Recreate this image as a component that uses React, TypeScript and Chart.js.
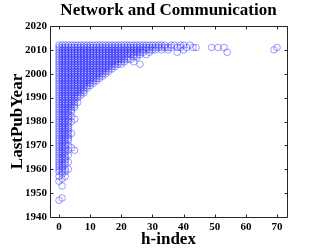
import React, { useEffect, useRef } from "react";
import { Chart, registerables } from "chart.js";

Chart.register(...registerables);

const chartTitle = "Network and Communication";
const xAxisTitle = "h-index";
const yAxisTitle = "LastPubYear";

const xTickValues = [0, 10, 20, 30, 40, 50, 60, 70];
const yTickValues = [1940, 1950, 1960, 1970, 1980, 1990, 2000, 2010, 2020];

// h-index value and the LastPubYear values of the researchers with that h-index
const hIndexValues = [
  0, 1, 2, 3, 4, 5, 6, 7, 8, 9, 10, 11, 12, 13, 14, 15, 16, 17, 18, 19, 20,
  21, 22, 23, 24, 25, 26, 27, 28, 29, 30, 31, 32, 33, 34, 35, 36, 37, 38, 39,
  40, 41, 42, 43, 44, 49, 51, 53, 54, 69, 70,
];

const lastPubYears: number[][] = [
  [1947, 1955, 1957, 1959, 1960, 1961, 1962, 1963, 1964, 1965, 1966, 1967, 1968, 1969, 1970, 1971, 1972, 1973, 1974, 1975, 1976, 1977, 1978, 1979, 1980, 1981, 1982, 1983, 1984, 1985, 1986, 1987, 1988, 1989, 1990, 1991, 1992, 1993, 1994, 1995, 1996, 1997, 1998, 1999, 2000, 2001, 2002, 2003, 2004, 2005, 2006, 2007, 2008, 2009, 2010, 2011, 2012],
  [1948, 1953, 1956, 1958, 1959, 1960, 1961, 1962, 1963, 1964, 1965, 1966, 1967, 1968, 1969, 1970, 1971, 1972, 1973, 1974, 1975, 1976, 1977, 1978, 1979, 1980, 1981, 1982, 1983, 1984, 1985, 1986, 1987, 1988, 1989, 1990, 1991, 1992, 1993, 1994, 1995, 1996, 1997, 1998, 1999, 2000, 2001, 2002, 2003, 2004, 2005, 2006, 2007, 2008, 2009, 2010, 2011, 2012],
  [1957, 1959, 1960, 1962, 1963, 1964, 1965, 1966, 1967, 1968, 1969, 1970, 1971, 1972, 1973, 1974, 1975, 1976, 1977, 1978, 1979, 1980, 1981, 1982, 1983, 1984, 1985, 1986, 1987, 1988, 1989, 1990, 1991, 1992, 1993, 1994, 1995, 1996, 1997, 1998, 1999, 2000, 2001, 2002, 2003, 2004, 2005, 2006, 2007, 2008, 2009, 2010, 2011, 2012],
  [1960, 1963, 1966, 1968, 1970, 1972, 1973, 1974, 1975, 1976, 1977, 1978, 1979, 1980, 1981, 1982, 1983, 1984, 1985, 1986, 1987, 1988, 1989, 1990, 1991, 1992, 1993, 1994, 1995, 1996, 1997, 1998, 1999, 2000, 2001, 2002, 2003, 2004, 2005, 2006, 2007, 2008, 2009, 2010, 2011, 2012],
  [1969, 1975, 1980, 1982, 1984, 1985, 1986, 1987, 1988, 1989, 1990, 1991, 1992, 1993, 1994, 1995, 1996, 1997, 1998, 1999, 2000, 2001, 2002, 2003, 2004, 2005, 2006, 2007, 2008, 2009, 2010, 2011, 2012],
  [1968, 1981, 1986, 1987, 1988, 1989, 1990, 1991, 1992, 1993, 1994, 1995, 1996, 1997, 1998, 1999, 2000, 2001, 2002, 2003, 2004, 2005, 2006, 2007, 2008, 2009, 2010, 2011, 2012],
  [1988, 1990, 1991, 1992, 1993, 1994, 1995, 1996, 1997, 1998, 1999, 2000, 2001, 2002, 2003, 2004, 2005, 2006, 2007, 2008, 2009, 2010, 2011, 2012],
  [1991, 1992, 1993, 1994, 1995, 1996, 1997, 1998, 1999, 2000, 2001, 2002, 2003, 2004, 2005, 2006, 2007, 2008, 2009, 2010, 2011, 2012],
  [1992, 1993, 1994, 1995, 1996, 1997, 1998, 1999, 2000, 2001, 2002, 2003, 2004, 2005, 2006, 2007, 2008, 2009, 2010, 2011, 2012],
  [1994, 1995, 1996, 1997, 1998, 1999, 2000, 2001, 2002, 2003, 2004, 2005, 2006, 2007, 2008, 2009, 2010, 2011, 2012],
  [1995, 1996, 1997, 1998, 1999, 2000, 2001, 2002, 2003, 2004, 2005, 2006, 2007, 2008, 2009, 2010, 2011, 2012],
  [1996, 1997, 1998, 1999, 2000, 2001, 2002, 2003, 2004, 2005, 2006, 2007, 2008, 2009, 2010, 2011, 2012],
  [1997, 1998, 1999, 2000, 2001, 2002, 2003, 2004, 2005, 2006, 2007, 2008, 2009, 2010, 2011, 2012],
  [1998, 1999, 2000, 2001, 2002, 2003, 2004, 2005, 2006, 2007, 2008, 2009, 2010, 2011, 2012],
  [1999, 2000, 2001, 2002, 2003, 2004, 2005, 2006, 2007, 2008, 2009, 2010, 2011, 2012],
  [2000, 2001, 2002, 2003, 2004, 2005, 2006, 2007, 2008, 2009, 2010, 2011, 2012],
  [2001, 2002, 2003, 2004, 2005, 2006, 2007, 2008, 2009, 2010, 2011, 2012],
  [2002, 2003, 2004, 2005, 2006, 2007, 2008, 2009, 2010, 2011, 2012],
  [2003, 2004, 2005, 2006, 2007, 2008, 2009, 2010, 2011, 2012],
  [2004, 2005, 2006, 2007, 2008, 2009, 2010, 2011, 2012],
  [2004, 2005, 2006, 2007, 2008, 2009, 2010, 2011, 2012],
  [2005, 2006, 2007, 2008, 2009, 2010, 2011, 2012],
  [2006, 2007, 2008, 2009, 2010, 2011, 2012],
  [2006, 2008, 2009, 2010, 2011, 2012],
  [2005, 2007, 2008, 2009, 2010, 2011, 2012],
  [2007, 2008, 2009, 2010, 2011, 2012],
  [2004, 2008, 2009, 2010, 2011, 2012],
  [2009, 2010, 2011, 2012],
  [2008, 2010, 2011, 2012],
  [2009, 2010, 2011, 2012],
  [2010, 2011, 2012],
  [2010, 2011, 2012],
  [2011, 2012],
  [2010, 2011, 2012],
  [2011, 2012],
  [2010, 2011],
  [2011, 2012],
  [2012],
  [2009, 2011],
  [2011, 2012],
  [2010, 2012],
  [2011],
  [2012],
  [2011],
  [2011],
  [2011],
  [2011],
  [2011],
  [2009],
  [2010],
  [2011],
];

const serif = "'Liberation Serif', 'Times New Roman', Times, serif";

const framePlugin = {
  id: "matlabFrame",
  afterDatasetsDraw(chart: any) {
    const { ctx, chartArea, scales } = chart;
    const { left, right, top, bottom } = chartArea;
    const xs = scales.x;
    const ys = scales.y;
    const tick = 3;
    ctx.save();
    ctx.strokeStyle = "#262626";
    ctx.lineWidth = 1;
    ctx.beginPath();
    const L = Math.round(left) + 0.5;
    const R = Math.round(right) + 0.5;
    const T = Math.round(top) + 0.5;
    const B = Math.round(bottom) + 0.5;
    ctx.rect(L, T, R - L, B - T);
    xTickValues.forEach((v) => {
      const px = Math.round(xs.getPixelForValue(v)) + 0.5;
      ctx.moveTo(px, B);
      ctx.lineTo(px, B - tick);
      ctx.moveTo(px, T);
      ctx.lineTo(px, T + tick);
    });
    yTickValues.forEach((v) => {
      const py = Math.round(ys.getPixelForValue(v)) + 0.5;
      ctx.moveTo(L, py);
      ctx.lineTo(L + tick, py);
      ctx.moveTo(R, py);
      ctx.lineTo(R - tick, py);
    });
    ctx.stroke();
    ctx.restore();
  },
};

export default function App() {
  const canvasRef = useRef<HTMLCanvasElement | null>(null);

  useEffect(() => {
    document.body.style.margin = "0";
    const canvas = canvasRef.current;
    if (!canvas) return;
    const points = hIndexValues.flatMap((h, i) =>
      lastPubYears[i].map((year) => ({ x: h, y: year }))
    );
    const chart = new Chart(canvas, {
      type: "scatter",
      data: {
        datasets: [
          {
            data: points,
            pointStyle: "circle",
            pointRadius: 3.3,
            pointHoverRadius: 3.3,
            borderWidth: 0.75,
            borderColor: "rgba(40, 40, 255, 0.62)",
            backgroundColor: "rgba(0,0,0,0)",
          },
        ],
      },
      options: {
        responsive: false,
        animation: false,
        devicePixelRatio: 1,
        layout: { padding: { left: 0, right: 32, top: 0, bottom: 0 } },
        plugins: {
          legend: { display: false },
          tooltip: { enabled: false },
          title: {
            display: true,
            text: chartTitle,
            fullSize: false,
            color: "#000",
            font: { family: serif, size: 17, weight: "bold", lineHeight: 1.2 },
            padding: { top: 0, bottom: 5.6 },
          },
        },
        scales: {
          x: {
            type: "linear",
            min: -2.9,
            max: 73.2,
            grid: { display: false, drawTicks: false },
            border: { display: false },
            ticks: {
              color: "#000",
              padding: 4,
              maxRotation: 0,
              font: { family: serif, size: 11, weight: "bold" },
              callback: (v: any) => String(v),
            },
            title: {
              display: true,
              text: xAxisTitle,
              color: "#000",
              font: { family: serif, size: 17, weight: "bold", lineHeight: 1.2 },
              padding: { top: 0, bottom: 1.5 },
            },
            afterBuildTicks: (scale: any) => {
              scale.ticks = xTickValues.map((value) => ({ value }));
            },
            afterFit: (scale: any) => {
              scale.height = 34;
            },
          },
          y: {
            type: "linear",
            min: 1940,
            max: 2020,
            grid: { display: false, drawTicks: false },
            border: { display: false },
            ticks: {
              color: "#000",
              padding: 3,
              font: { family: serif, size: 11, weight: "bold" },
              callback: (v: any) => String(v),
            },
            title: {
              display: true,
              text: yAxisTitle,
              color: "#000",
              font: { family: serif, size: 17, weight: "bold", lineHeight: 1.2 },
              padding: { top: 7, bottom: 0 },
            },
            afterBuildTicks: (scale: any) => {
              scale.ticks = yTickValues.map((value) => ({ value }));
            },
            afterFit: (scale: any) => {
              scale.width = 50;
            },
          },
        },
      },
      plugins: [framePlugin],
    });
    return () => chart.destroy();
  }, []);

  return (
    <div style={{ width: 319, height: 251 }}>
      <canvas ref={canvasRef} width={319} height={251} style={{ display: "block" }} />
    </div>
  );
}
